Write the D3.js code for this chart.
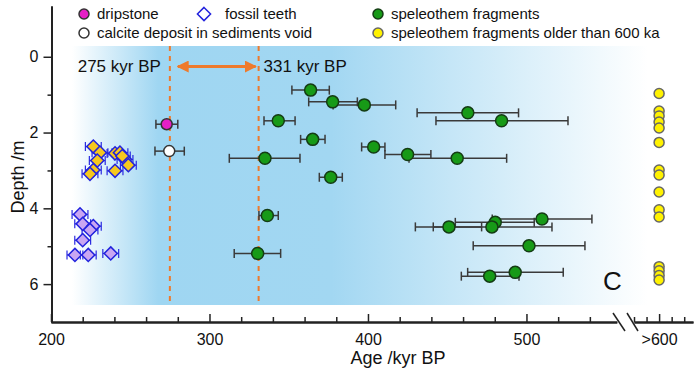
<!DOCTYPE html>
<html>
<head>
<meta charset="utf-8">
<script src="https://cdn.jsdelivr.net/npm/d3@7"></script>
<style>
  body { margin: 0; background: #fff; }
  text { font-family: "Liberation Sans", Arial, Helvetica, sans-serif; fill: #111; }
</style>
</head>
<body>
<svg id="chart" width="700" height="371"></svg>
<script>
// speleothem fragments: age (kyr BP), depth (m), error range
var speleoAge   = [363.8, 377.7, 397.7, 463, 484.3, 343.4, 365.1, 403.6, 425, 456.3, 376.5, 335, 336.5, 330.4, 509.8, 480.3, 478.2, 451.1, 501.6, 492.9, 476.8];
var speleoDepth = [0.88, 1.19, 1.27, 1.48, 1.69, 1.69, 2.18, 2.38, 2.58, 2.68, 3.18, 2.68, 4.19, 5.19, 4.28, 4.37, 4.49, 4.49, 4.99, 5.69, 5.79];
var speleoLo    = [352, 362.6, 378, 431, 442.9, 334.4, 357.5, 396, 410.7, 425.9, 369.3, 312.5, 331.2, 315.6, 478.4, 455.1, 441.2, 429.9, 466.4, 462.9, 458.9];
var speleoHi    = [375.6, 393.3, 417.5, 495, 526.2, 354, 372.9, 410.7, 439.7, 487.5, 383.8, 357.1, 343.4, 344.9, 541.3, 504.9, 516.1, 471.7, 536.9, 523.2, 495.3];

// dripstone and calcite deposit
var dripAge = [273], dripDepth = [1.78], dripLo = [266.2], dripHi = [280];
var calcAge = [274.6], calcDepth = [2.49], calcLo = [265.6], calcHi = [284.1];

// fossil teeth (two groups)
var teethGoldAge   = [226.7, 230.9, 229.2, 226.7, 224.6, 240.4, 243.5, 246.7, 248.8, 240.4, 245];
var teethGoldDepth = [2.37, 2.53, 2.74, 2.99, 3.09, 2.55, 2.53, 2.71, 2.86, 3.01, 2.62];
var teethPurpAge   = [218.3, 220, 226.7, 224.6, 220, 215.1, 223.5, 237.7];
var teethPurpDepth = [4.16, 4.41, 4.47, 4.57, 4.84, 5.23, 5.23, 5.19];
var teethErr = 5;

// older than 600 ka
var oldDepth = [0.97, 1.43, 1.56, 1.72, 1.88, 2.26, 2.99, 3.12, 3.57, 4.04, 4.23, 5.54, 5.65, 5.77, 5.89];

var boundA = 275, boundB = 331;
var xMajor = [200, 300, 400, 500];
var yMajor = [0, 2, 4, 6], yMinor = [1, 3, 5];

var svg = d3.select("#chart");

var x = d3.scaleLinear().domain([200, 557]).range([51, 616.8]);
var x2 = d3.scaleLinear().domain([580, 627]).range([634, 693]);
var y = d3.scaleLinear().domain([-1.34, 7.0]).range([6, 322]);

// background gradient
var defs = svg.append("defs");
var grad = defs.append("linearGradient").attr("id", "bg")
  .attr("gradientUnits", "userSpaceOnUse")
  .attr("x1", 72).attr("x2", 648).attr("y1", 0).attr("y2", 0);
grad.append("stop").attr("offset", 0).attr("stop-color", "#ffffff");
grad.append("stop").attr("offset", 0.15).attr("stop-color", "#9fd6f2");
grad.append("stop").attr("offset", 0.45).attr("stop-color", "#a2d7f2");
grad.append("stop").attr("offset", 1).attr("stop-color", "#ffffff");

svg.append("rect").attr("x", 72).attr("y", 46).attr("width", 576).attr("height", 259)
  .attr("fill", "url(#bg)");

// boundary lines
[boundA, boundB].forEach(function(b){
  svg.append("line")
    .attr("x1", x(b)).attr("x2", x(b)).attr("y1", 46).attr("y2", 305)
    .attr("stroke", "#ee7a2c").attr("stroke-width", 2)
    .attr("stroke-dasharray", "5,5");
});

defs.append("marker").attr("id", "ah").attr("viewBox", "0 0 10 10")
  .attr("refX", 9).attr("refY", 5).attr("markerWidth", 4).attr("markerHeight", 4)
  .attr("orient", "auto-start-reverse")
  .append("path").attr("d", "M0,0L10,5L0,10z").attr("fill", "#ee7a2c");

svg.append("line")
  .attr("x1", x(boundA) + 8).attr("x2", x(boundB) - 3)
  .attr("y1", 66.5).attr("y2", 66.5)
  .attr("stroke", "#ee7a2c").attr("stroke-width", 3)
  .attr("marker-start", "url(#ah)").attr("marker-end", "url(#ah)");

svg.append("text").attr("x", x(boundA) - 9).attr("y", 72).attr("text-anchor", "end")
  .attr("font-size", 17).text(boundA + " kyr BP");
svg.append("text").attr("x", x(boundB) + 5).attr("y", 72)
  .attr("font-size", 17).text(boundB + " kyr BP");

// error bars
function errBars(ages, depths, lo, hi, cap) {
  var g = svg.append("g").attr("stroke", "#3a3a3a").attr("stroke-width", 1.5).attr("fill", "none");
  ages.forEach(function(a, i){
    var yy = y(depths[i]);
    g.append("line").attr("x1", x(lo[i])).attr("x2", x(hi[i])).attr("y1", yy).attr("y2", yy);
    g.append("line").attr("x1", x(lo[i])).attr("x2", x(lo[i])).attr("y1", yy - cap).attr("y2", yy + cap);
    g.append("line").attr("x1", x(hi[i])).attr("x2", x(hi[i])).attr("y1", yy - cap).attr("y2", yy + cap);
  });
}

function diamonds(ages, depths, fill) {
  var g = svg.append("g");
  var gb = g.append("g").attr("stroke", "#2a2ae0").attr("stroke-width", 1.2);
  ages.forEach(function(a, i){
    var yy = y(depths[i]);
    var l = x(a - teethErr), r = x(a + teethErr);
    gb.append("line").attr("x1", l).attr("x2", r).attr("y1", yy).attr("y2", yy);
    gb.append("line").attr("x1", l).attr("x2", l).attr("y1", yy - 4.5).attr("y2", yy + 4.5);
    gb.append("line").attr("x1", r).attr("x2", r).attr("y1", yy - 4.5).attr("y2", yy + 4.5);
  });
  g.selectAll("path.d").data(ages).enter().append("path")
    .attr("d", d3.symbol().type(d3.symbolDiamond2).size(110))
    .attr("transform", function(d, i){ return "translate(" + x(d) + "," + y(depths[i]) + ")"; })
    .attr("fill", fill).attr("stroke", "#2222dd").attr("stroke-width", 1.5);
}

diamonds(teethGoldAge, teethGoldDepth, "#f6c81e");
diamonds(teethPurpAge, teethPurpDepth, "#c9a6f2");

errBars(speleoAge, speleoDepth, speleoLo, speleoHi, 4.5);
errBars(dripAge, dripDepth, dripLo, dripHi, 4.5);
errBars(calcAge, calcDepth, calcLo, calcHi, 4.5);

function circles(ages, depths, fill, stroke, xs, r) {
  svg.append("g").selectAll("circle").data(ages).enter().append("circle")
    .attr("cx", function(d){ return xs(d); })
    .attr("cy", function(d, i){ return y(depths[i]); })
    .attr("r", r)
    .attr("fill", fill).attr("stroke", stroke).attr("stroke-width", 1.5);
}

circles(speleoAge, speleoDepth, "#179a17", "#143c14", x, 6);
circles(dripAge, dripDepth, "#e61fc6", "#333", x, 5.5);
circles(calcAge, calcDepth, "#ffffff", "#333", x, 5.5);
circles(oldDepth.map(function(){ return 600; }), oldDepth, "#fff200", "#666", x2, 5);

// axes
var gx = svg.append("g").attr("transform", "translate(0,322)");
gx.call(d3.axisBottom(x).tickValues(xMajor).tickSize(-8).tickSizeOuter(0).tickPadding(12).tickFormat(d3.format("d")));
gx.append("g").call(d3.axisBottom(x).tickValues(d3.range(220, 557, 20).filter(function(v){ return v % 100; }))
  .tickSize(-5).tickSizeOuter(0).tickFormat(""));

var gx2 = svg.append("g").attr("transform", "translate(0,322)");
gx2.call(d3.axisBottom(x2).tickValues([600]).tickSize(-8).tickSizeOuter(0).tickPadding(12).tickFormat(function(){ return ">600"; }));
gx2.append("g").call(d3.axisBottom(x2).tickValues([580, 590, 610, 620]).tickSize(-5).tickSizeOuter(0).tickFormat(""));

svg.selectAll(".domain").attr("stroke", "#222").attr("stroke-width", 2);
svg.selectAll(".tick line").attr("stroke", "#222").attr("stroke-width", 1.5);
svg.selectAll(".tick text").attr("font-size", 16).attr("font-family", "Liberation Sans, Arial, sans-serif").attr("fill", "#111");

// axis break marks
svg.append("line").attr("x1", 613).attr("y1", 313).attr("x2", 625).attr("y2", 331).attr("stroke", "#222").attr("stroke-width", 1.5);
svg.append("line").attr("x1", 627).attr("y1", 313).attr("x2", 638).attr("y2", 331).attr("stroke", "#222").attr("stroke-width", 1.5);

var gy = svg.append("g").attr("transform", "translate(51.5,0)");
gy.call(d3.axisLeft(y).tickValues(yMajor).tickSize(8).tickSizeOuter(0).tickPadding(5).tickFormat(d3.format("d")));
gy.append("g").call(d3.axisLeft(y).tickValues(yMinor).tickSize(4).tickSizeOuter(0).tickFormat(""));
gy.selectAll(".domain").attr("stroke", "#222").attr("stroke-width", 2);
gy.selectAll(".tick line").attr("stroke", "#222").attr("stroke-width", 1.5);
gy.selectAll(".tick text").attr("font-size", 16).attr("fill", "#111");

svg.append("text").attr("x", 398).attr("y", 364).attr("text-anchor", "middle")
  .attr("font-size", 18).text("Age /kyr BP");
svg.append("text").attr("transform", "translate(24,177) rotate(-90)").attr("text-anchor", "middle")
  .attr("font-size", 18).text("Depth /m");

svg.append("text").attr("x", 603).attr("y", 290).attr("font-size", 26).text("C");

// legend
var legend = [
  {label: "dripstone", type: "circle", fill: "#e61fc6", stroke: "#333", lx: 84, ly: 14},
  {label: "fossil teeth", type: "diamond", fill: "#ffffff", stroke: "#2222dd", lx: 204, ly: 14},
  {label: "calcite deposit in sediments void", type: "circle", fill: "#ffffff", stroke: "#333", lx: 84, ly: 33},
  {label: "speleothem fragments", type: "circle", fill: "#179a17", stroke: "#143c14", lx: 378, ly: 14},
  {label: "speleothem fragments older than 600 ka", type: "circle", fill: "#fff200", stroke: "#666", lx: 378, ly: 33}
];
legend.forEach(function(l){
  if (l.type === "circle") {
    svg.append("circle").attr("cx", l.lx).attr("cy", l.ly).attr("r", 5)
      .attr("fill", l.fill).attr("stroke", l.stroke).attr("stroke-width", 1.5);
  } else {
    svg.append("path").attr("d", d3.symbol().type(d3.symbolDiamond2).size(110))
      .attr("transform", "translate(" + l.lx + "," + l.ly + ")")
      .attr("fill", l.fill).attr("stroke", l.stroke).attr("stroke-width", 1.5);
  }
  svg.append("text").attr("x", l.lx + (l.type === "circle" ? 13 : 21)).attr("y", l.ly + 5)
    .attr("font-size", 15).text(l.label);
});
</script>
</body>
</html>
